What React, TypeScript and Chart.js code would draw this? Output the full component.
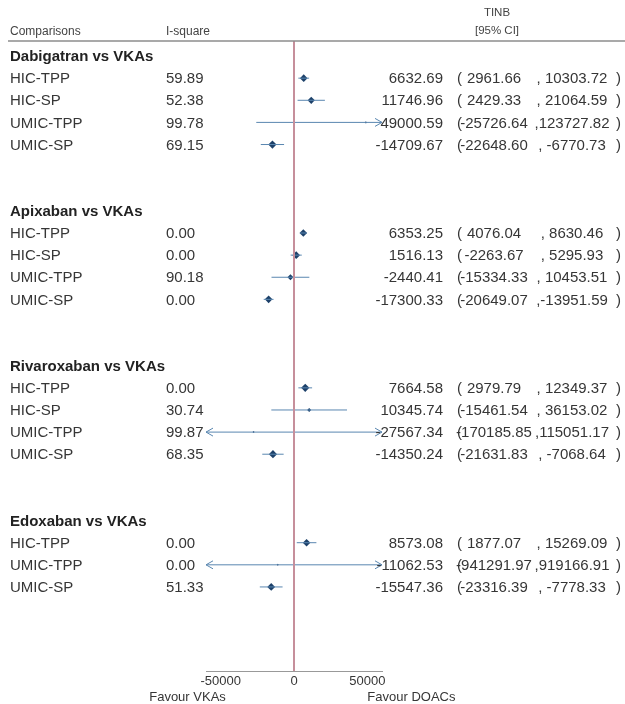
import React, { useEffect, useRef } from "react";
import { Chart, registerables } from "chart.js";

Chart.register(...registerables);

// ---------- data ----------
const groupTitles = ["Dabigatran vs VKAs", "Apixaban vs VKAs", "Rivaroxaban vs VKAs", "Edoxaban vs VKAs"];
const groupSizes = [4, 4, 4, 3];
const rowLabels = [
  "HIC-TPP", "HIC-SP", "UMIC-TPP", "UMIC-SP",
  "HIC-TPP", "HIC-SP", "UMIC-TPP", "UMIC-SP",
  "HIC-TPP", "HIC-SP", "UMIC-TPP", "UMIC-SP",
  "HIC-TPP", "UMIC-TPP", "UMIC-SP",
];
const iSquare = [59.89, 52.38, 99.78, 69.15, 0.0, 0.0, 90.18, 0.0, 0.0, 30.74, 99.87, 68.35, 0.0, 0.0, 51.33];
const tinb = [
  6632.69, 11746.96, 49000.59, -14709.67,
  6353.25, 1516.13, -2440.41, -17300.33,
  7664.58, 10345.74, -27567.34, -14350.24,
  8573.08, -11062.53, -15547.36,
];
const ciLower = [
  2961.66, 2429.33, -25726.64, -22648.6,
  4076.04, -2263.67, -15334.33, -20649.07,
  2979.79, -15461.54, -170185.85, -21631.83,
  1877.07, -941291.97, -23316.39,
];
const ciUpper = [
  10303.72, 21064.59, 123727.82, -6770.73,
  8630.46, 5295.93, 10453.51, -13951.59,
  12349.37, 36153.02, 115051.17, -7068.64,
  15269.09, 919166.91, -7778.33,
];
const xTickValues = [-50000, 0, 50000];
const xRange = [-60000, 60000];

// ---------- styles ----------
const markerRadius = [3.8, 3.6, 1.1, 4.1, 3.8, 3.8, 3.0, 3.8, 4.1, 2.0, 1, 4.1, 3.8, 1, 3.9];
const FONT = '"Liberation Sans", Arial, Helvetica, sans-serif';
const CI_COLOR = "#5a87b0";
const DOT_COLOR = "#1d416a";
const REF_COLOR = "#c68f9b";
const TEXT_COLOR = "#363636";

// row positions (group header, rows, two blank rows)
const headerRows: number[] = [];
const dataRows: number[] = [];
(() => {
  let idx = 0;
  groupSizes.forEach((n) => {
    headerRows.push(idx);
    idx += 1;
    for (let k = 0; k < n; k++) {
      dataRows.push(idx);
      idx += 1;
    }
    idx += 2;
  });
})();
const Y_MIN = -0.68;
const Y_MAX = 27.8;

export default function App() {
  const ref = useRef<HTMLCanvasElement | null>(null);

  useEffect(() => {
    if (!ref.current) return;

    const textPlugin = {
      id: "forestText",
      afterDatasetsDraw(chart: any) {
        const ctx = chart.ctx;
        const xs = chart.scales.x;
        const ys = chart.scales.y;
        const area = chart.chartArea;
        ctx.save();

        // arrows for truncated CIs
        ctx.strokeStyle = CI_COLOR;
        ctx.lineWidth = 1;
        dataRows.forEach((r, i) => {
          const y = ys.getPixelForValue(r);
          if (ciLower[i] < xRange[0]) {
            const x = xs.getPixelForValue(xRange[0]);
            ctx.beginPath();
            ctx.moveTo(x + 7, y - 4);
            ctx.lineTo(x, y);
            ctx.lineTo(x + 7, y + 4);
            ctx.stroke();
          }
          if (ciUpper[i] > xRange[1]) {
            const x = xs.getPixelForValue(xRange[1]);
            ctx.beginPath();
            ctx.moveTo(x - 7, y - 4);
            ctx.lineTo(x, y);
            ctx.lineTo(x - 7, y + 4);
            ctx.stroke();
          }
        });

        // header line
        ctx.strokeStyle = "#8c8c8c";
        ctx.lineWidth = 1.5;
        ctx.beginPath();
        ctx.moveTo(8, area.top);
        ctx.lineTo(chart.width, area.top);
        ctx.stroke();

        // header texts
        ctx.fillStyle = "#444";
        ctx.textBaseline = "middle";
        ctx.font = `12px ${FONT}`;
        ctx.textAlign = "left";
        ctx.fillText("Comparisons", 10, 32);
        ctx.fillText("I-square", 166, 32);
        ctx.font = `11.5px ${FONT}`;
        ctx.textAlign = "center";
        ctx.fillText("TINB", 497, 13);
        ctx.fillText("[95% CI]", 497, 31);

        // group titles
        ctx.fillStyle = "#222";
        ctx.font = `bold 15px ${FONT}`;
        ctx.textAlign = "left";
        headerRows.forEach((r, g) => {
          ctx.fillText(groupTitles[g], 10, ys.getPixelForValue(r) + 1);
        });

        // rows
        ctx.fillStyle = TEXT_COLOR;
        ctx.font = `15px ${FONT}`;
        dataRows.forEach((r, i) => {
          const y = ys.getPixelForValue(r) + 1;
          ctx.textAlign = "left";
          ctx.fillText(rowLabels[i], 10, y);
          ctx.fillText(iSquare[i].toFixed(2), 166, y);
          ctx.textAlign = "right";
          ctx.fillText(tinb[i].toFixed(2), 443, y);
          ctx.textAlign = "left";
          ctx.fillText("(", 457, y);
          ctx.textAlign = "center";
          ctx.fillText(ciLower[i].toFixed(2), 494, y);
          const up = ciUpper[i].toFixed(2);
          ctx.fillText((up.length >= 9 ? "," : ", ") + up, 572, y);
          ctx.textAlign = "left";
          ctx.fillText(")", 616, y);
        });

        // favour labels
        ctx.font = `13px ${FONT}`;
        ctx.fillStyle = TEXT_COLOR;
        ctx.textAlign = "right";
        ctx.fillText("Favour VKAs", xs.getPixelForValue(-46500), 697);
        ctx.textAlign = "left";
        ctx.fillText("Favour DOACs", xs.getPixelForValue(50000), 697);

        ctx.restore();
      },
    };

    const datasets: any[] = [];
    datasets.push({
      type: "line",
      data: [
        { x: 0, y: Y_MIN },
        { x: 0, y: Y_MAX },
      ],
      borderColor: REF_COLOR,
      borderWidth: 2,
      pointRadius: 0,
    });
    dataRows.forEach((r, i) => {
      datasets.push({
        type: "line",
        data: [
          { x: ciLower[i], y: r },
          { x: ciUpper[i], y: r },
        ],
        borderColor: CI_COLOR,
        borderWidth: 1,
        pointRadius: 0,
      });
    });
    datasets.push({
      type: "scatter",
      data: dataRows.map((r, i) => ({ x: tinb[i], y: r })),
      pointStyle: "rectRot",
      pointRadius: markerRadius,
      backgroundColor: DOT_COLOR,
      borderColor: DOT_COLOR,
      borderWidth: 0,
    });

    const chart = new Chart(ref.current, {
      type: "scatter",
      data: { datasets },
      options: {
        animation: false,
        responsive: false,
        devicePixelRatio: 1,
        layout: { padding: { left: 206, right: 243, top: 41, bottom: 0 } },
        plugins: { legend: { display: false }, tooltip: { enabled: false } },
        scales: {
          x: {
            type: "linear",
            min: xRange[0],
            max: xRange[1],
            afterBuildTicks: (s: any) => {
              s.ticks = xTickValues.map((v) => ({ value: v }));
            },
            afterFit: (s: any) => {
              s.height = 33;
            },
            grid: { display: false, drawTicks: false },
            border: { display: true, color: "#999999", width: 1 },
            ticks: {
              autoSkip: false,
              maxRotation: 0,
              padding: 3,
              color: TEXT_COLOR,
              font: { size: 13, family: FONT },
              callback: (v: any) => String(v),
            },
          },
          y: {
            type: "linear",
            display: false,
            reverse: true,
            min: Y_MIN,
            max: Y_MAX,
          },
        },
      },
      plugins: [textPlugin],
    });
    return () => chart.destroy();
  }, []);

  return (
    <div style={{ position: "absolute", left: 0, top: 0, width: 625, height: 704, background: "#fff" }}>
      <canvas ref={ref} width={625} height={704} style={{ display: "block" }} />
    </div>
  );
}
